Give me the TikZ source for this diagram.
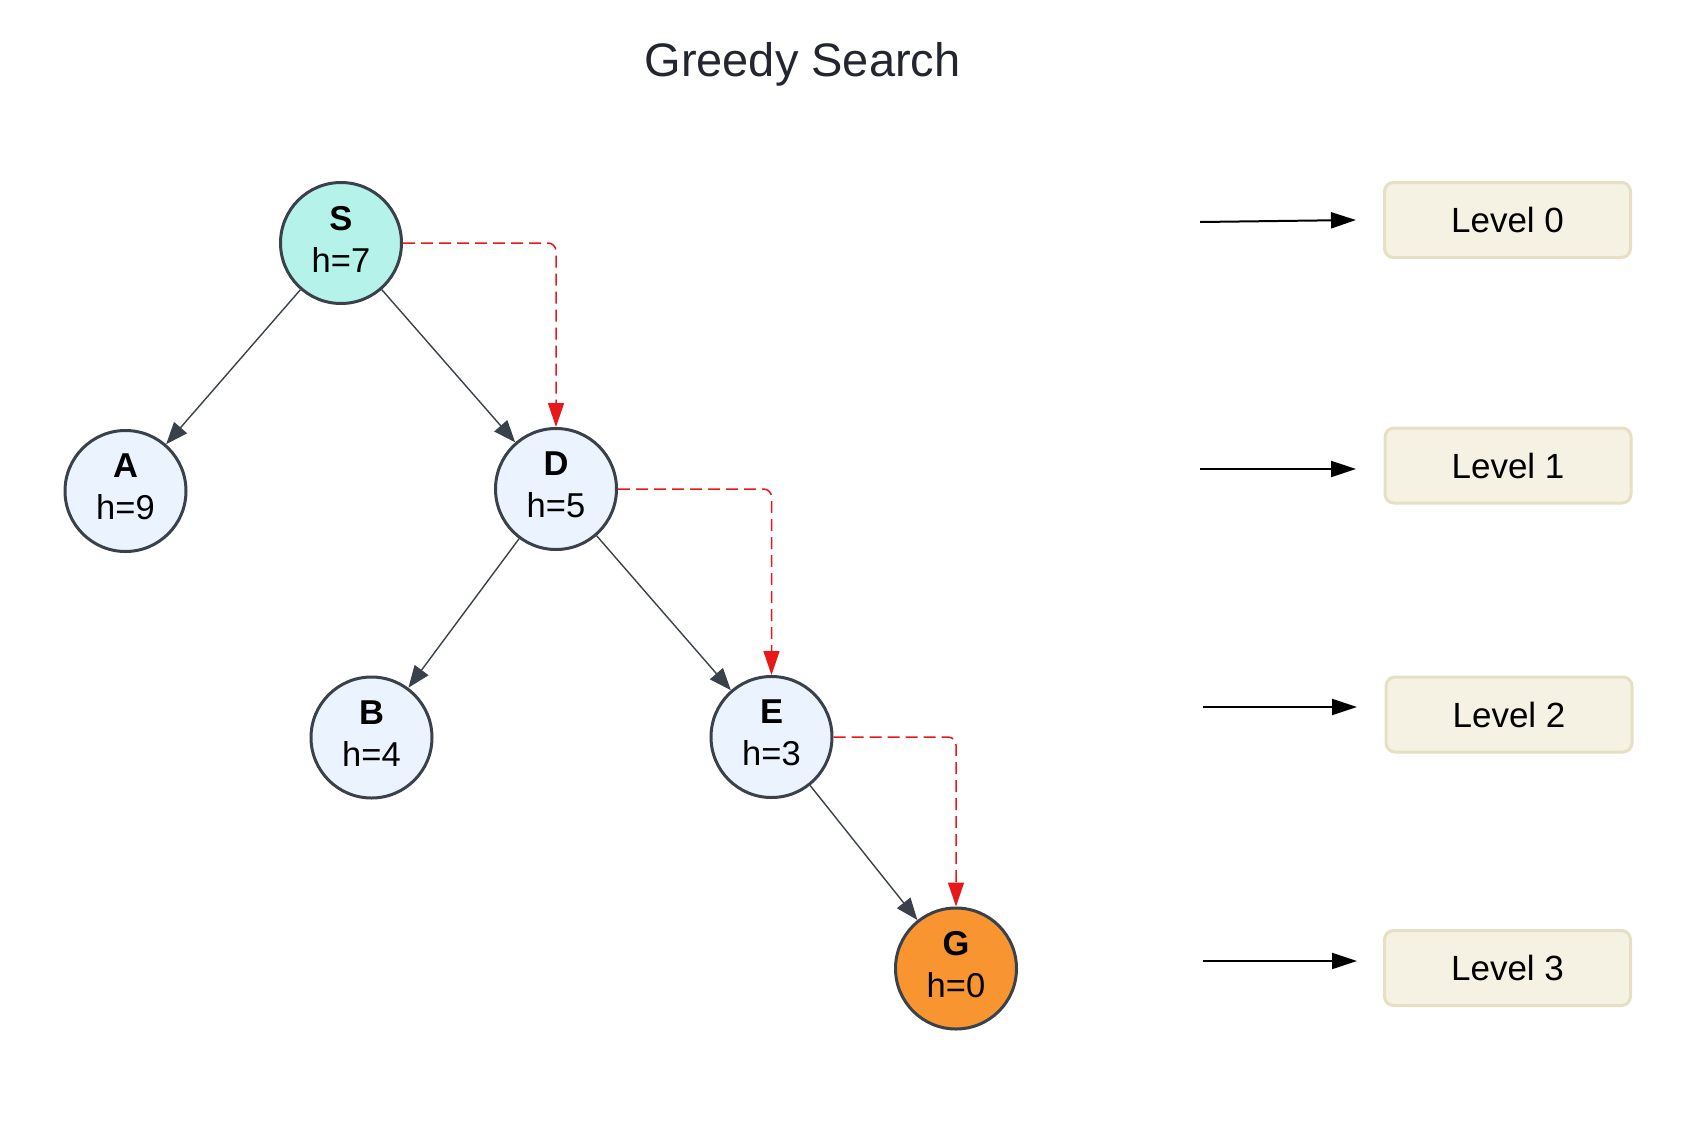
\documentclass[tikz,border=0pt]{standalone}
\usepackage{fontspec}
\setmainfont{Liberation Sans}
\usetikzlibrary{arrows.meta}

\definecolor{nodeline}{HTML}{3A414A}
\definecolor{nodefill}{HTML}{EBF3FF}
\definecolor{startfill}{HTML}{B5F2E9}
\definecolor{goalfill}{HTML}{F89531}
\definecolor{pathred}{HTML}{E8171A}
\definecolor{levelfill}{HTML}{F5F2E3}
\definecolor{levelline}{HTML}{E6DFC3}
\definecolor{titlecol}{HTML}{24262F}

\tikzset{
    state/.style={circle,draw=nodeline,line width=3pt,fill=nodefill,
        minimum size=121pt,inner sep=0pt,align=center,
        font=\fontsize{34.5}{42}\selectfont,
        execute at end node={\rule[-8pt]{0pt}{0pt}}},
    edge/.style={draw=nodeline,line width=1.4pt,
        -{Triangle[length=22pt,width=17pt]}},
    greedy/.style={draw=pathred,line width=1.5pt,dash pattern=on 12pt off 6pt,
        rounded corners=8pt,-{Triangle[length=24pt,width=16pt]}},
    levelbox/.style={draw=levelline,fill=levelfill,line width=3pt,
        rounded corners=9pt,minimum width=246pt,minimum height=75pt,
        font=\fontsize{35}{42}\selectfont},
    levelarrow/.style={line width=2pt,-{Triangle[length=25pt,width=16pt]}}
}

\begin{document}
\begin{tikzpicture}[x=1pt,y=-1pt]
                \useasboundingbox (0,0) rectangle (1690,1122);
                \node [anchor=base,text=titlecol,font=\fontsize{47}{56}\selectfont] (title) at (802.5,76) {Greedy Search};
                % search tree
                \node [state,fill=startfill] (S) at (341,243) {\textbf{S}\\h=7};
                \node [state] (A) at (125.5,491) {\textbf{A}\\h=9};
                \node [state] (D) at (556,489) {\textbf{D}\\h=5};
                \node [state] (B) at (371.5,737.5) {\textbf{B}\\h=4};
                \node [state] (E) at (771.5,737) {\textbf{E}\\h=3};
                \node [state,fill=goalfill] (G) at (956,968.5) {\textbf{G}\\h=0};
                \foreach \from/\to in {S/A,S/D,D/B,D/E,E/G}
                    \draw [edge] (\from) -- (\to);
                % greedy path
                \draw [greedy] (S.east) -| (D.north);
                \draw [greedy] (D.east) -| (E.north);
                \draw [greedy] (E.east) -| (G.north);
                % levels
                \node [levelbox] (lvl0) at (1507.5,220) {Level 0};
                \node [levelbox] (lvl1) at (1508,465.5) {Level 1};
                \node [levelbox] (lvl2) at (1509,714.5) {Level 2};
                \node [levelbox] (lvl3) at (1507.5,968) {Level 3};
                \coordinate (a0) at (1200,222);  \coordinate (b0) at (1356,220);
                \coordinate (a1) at (1200,469);  \coordinate (b1) at (1356,469);
                \coordinate (a2) at (1203,707);  \coordinate (b2) at (1357,707);
                \coordinate (a3) at (1203,961);  \coordinate (b3) at (1357,961);
                \foreach \i in {0,1,2,3}
                    \draw [levelarrow] (a\i) -- (b\i);
            \end{tikzpicture}
\end{document}
